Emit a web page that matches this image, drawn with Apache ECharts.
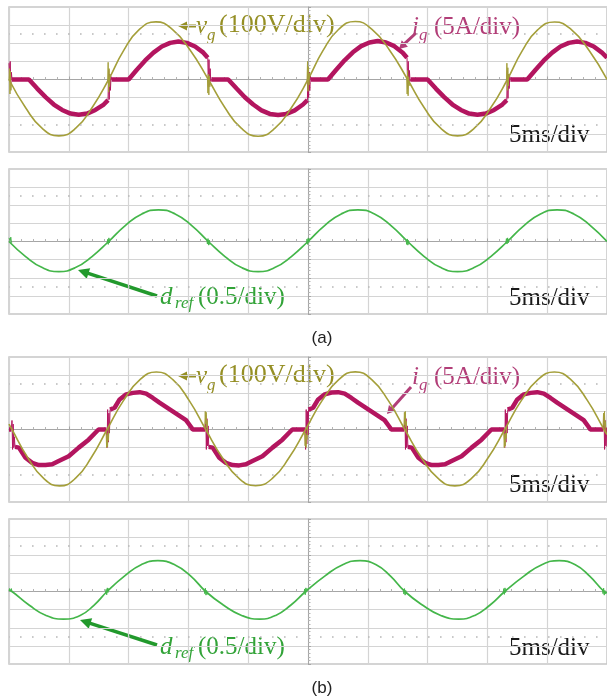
<!DOCTYPE html>
<html><head><meta charset="utf-8">
<script src="https://cdn.jsdelivr.net/npm/echarts@6/dist/echarts.min.js"></script>
<style>html,body{margin:0;padding:0;background:#fff}#c{width:607px;height:700px}</style>
</head><body><div id="c"></div><script>
// Time base: ms relative to the trigger point at screen centre (5 ms/div, 10 div).
// ---------- Panel (a), upper trace: grid voltage vg [V] ----------
const vgA_t = [-25, -23.61, -22.22, -20.83, -19.44, -18.06, -16.67, -15.42, -14.12, -12.72, -11.32, -9.82, -8.33, -6.94, -5.56, -4.17, -2.78, -1.39, 0, 1.25, 2.55, 3.95, 5.35, 6.85, 8.33, 9.72, 11.11, 12.5, 13.89, 15.28, 16.67, 17.92, 19.22, 20.62, 22.02, 23.52, 25];
const vgA_v = [0, -156, -270, -311, -270, -156, 0, 159, 275, 318, 275, 159, 0, -156, -270, -313, -270, -156, 0, 159, 276, 320, 276, 159, 0, -156, -270, -311, -270, -156, 0, 159, 275, 317, 275, 159, 0];
// switching glitches of vg at the zero crossings (null = gap)
const vgA_gt = [-25, -24.96, -24.92, -24.88, -24.84, -24.8, -24.79, -16.75, -16.71, -16.67, -16.63, -16.59, -16.55, -16.51, -16.5, -8.41, -8.37, -8.33, -8.29, -8.25, -8.21, -8.17, -8.16, -0.08, -0.04, 0, 0.04, 0.08, 0.12, 0.16, 0.17, 8.25, 8.29, 8.33, 8.37, 8.41, 8.45, 8.49, 8.5, 16.59, 16.63, 16.67, 16.71, 16.75, 16.79, 16.83];
const vgA_gv = [-5, 60, -80, 45, -60, -24, null, -10, 95, -70, 60, -40, 25, 19, null, 10, -75, 30, -85, 20, -40, -19, null, -10, 100, -65, 70, -30, 35, 19, null, 10, -80, 50, -90, 15, -35, -19, null, -10, 90, -60, 65, -35, 30, 19];

// ---------- Panel (a), upper trace: grid current ig [A] ----------
const igA_t = [-24.75, -23.33, -22.64, -21.94, -21.25, -20.56, -19.86, -19.17, -18.47, -17.78, -17.08, -16.72, -16.7, -16.42, -15.0, -14.31, -13.61, -12.92, -12.22, -11.53, -10.83, -10.14, -9.44, -8.75, -8.38, -8.36, -8.08, -6.67, -5.97, -5.28, -4.58, -3.89, -3.19, -2.5, -1.81, -1.11, -0.42, -0.05, -0.03, 0.25, 1.67, 2.36, 3.06, 3.75, 4.44, 5.14, 5.83, 6.53, 7.22, 7.92, 8.28, 8.3, 8.58, 10.0, 10.69, 11.39, 12.08, 12.78, 13.47, 14.17, 14.86, 15.56, 16.25, 16.62, 16.64, 16.92, 18.33, 19.03, 19.72, 20.42, 21.11, 21.81, 22.5, 23.19, 23.89, 24.58, 25];
const igA_v = [0, 0, -2.5, -4.85, -6.9, -8.4, -9.4, -9.7, -9.4, -8.4, -6.9, -5.7, null, 0, 0, 2.7, 5.25, 7.4, 9.1, 10.1, 10.5, 10.1, 9.1, 7.4, 6.0, null, 0, 0, -2.5, -4.9, -6.9, -8.5, -9.5, -9.8, -9.5, -8.5, -6.9, -5.7, null, 0, 0, 2.7, 5.3, 7.5, 9.2, 10.2, 10.6, 10.2, 9.2, 7.4, 6.0, null, 0, 0, -2.5, -4.85, -6.9, -8.4, -9.4, -9.7, -9.4, -8.4, -6.9, -5.7, null, 0, 0, 2.7, 5.25, 7.4, 9.1, 10.1, 10.5, 10.1, 9.1, 7.4, 6.0];
const igA_gt = [-25, -24.95, -24.9, -24.85, -24.8, -24.75, -24.74, -16.72, -16.67, -16.62, -16.57, -16.52, -16.47, -16.42, -16.41, -8.38, -8.33, -8.28, -8.23, -8.18, -8.13, -8.08, -8.07, -0.05, 0, 0.05, 0.1, 0.15, 0.2, 0.25, 0.26, 8.28, 8.33, 8.38, 8.43, 8.48, 8.53, 8.58, 8.59, 16.62, 16.67, 16.72, 16.77, 16.82, 16.87, 16.92];
const igA_gv = [4.5, 0.5, 5, -1, 2, 0, null, -5.7, 2.5, -5.5, 1.5, -3, 0.8, 0, null, 6.0, -2, 5.5, -1.5, 3, -0.5, 0, null, -5.7, 3.3, -5, 2, -3, 1, 0, null, 6.0, -2.5, 5, -1, 2.5, -0.5, 0, null, -5.7, 2.5, -5.2, 1.5, -2.5, 0.8, 0];

// ---------- Panel (a), lower trace: duty reference dref ----------
const drefA_t = [-25, -23.61, -22.22, -20.83, -19.44, -18.06, -16.67, -15.28, -13.89, -12.5, -11.11, -9.72, -8.33, -6.94, -5.56, -4.17, -2.78, -1.39, 0, 1.39, 2.78, 4.17, 5.56, 6.94, 8.33, 9.72, 11.11, 12.5, 13.89, 15.28, 16.67, 18.06, 19.44, 20.83, 22.22, 23.61, 25];
const drefA_v = [0, -0.415, -0.72, -0.83, -0.72, -0.415, 0, 0.44, 0.76, 0.875, 0.76, 0.44, 0, -0.415, -0.72, -0.83, -0.72, -0.415, 0, 0.44, 0.76, 0.875, 0.76, 0.44, 0, -0.415, -0.72, -0.83, -0.72, -0.415, 0, 0.44, 0.76, 0.875, 0.76, 0.44, 0];
const drefA_gt = [-25, -24.95, -24.9, -24.85, -24.8, -24.75, -24.74, -16.8, -16.75, -16.7, -16.65, -16.6, -16.55, -16.5, -16.49, -8.46, -8.41, -8.36, -8.31, -8.26, -8.21, -8.16, -8.15, -0.13, -0.08, -0.03, 0.02, 0.07, 0.12, 0.17, 0.18, 8.2, 8.25, 8.3, 8.35, 8.4, 8.45, 8.5, 8.51, 16.54, 16.59, 16.64, 16.69, 16.74, 16.79, 16.84];
const drefA_gv = [0.1, 0.13, 0.02, 0.12, -0.02, -0.04, null, -0.05, 0.06, -0.08, 0.1, -0.04, 0.07, 0.05, null, 0.05, -0.07, 0.08, -0.1, 0.04, -0.08, -0.05, null, -0.05, 0.07, -0.08, 0.1, -0.03, 0.07, 0.05, null, 0.05, -0.08, 0.07, -0.1, 0.03, -0.07, -0.05, null, -0.05, 0.08, -0.07, 0.1, -0.04, 0.06, 0.05];

// ---------- Panel (b), upper trace: grid voltage vg [V] ----------
const vgB_t = [-25, -24.75, -23.43, -22.1, -20.78, -19.45, -18.13, -16.8, -15.43, -14.05, -12.68, -11.3, -9.93, -8.55, -7.16, -5.77, -4.38, -2.98, -1.59, -0.2, 1.18, 2.57, 3.95, 5.33, 6.72, 8.1, 9.49, 10.88, 12.28, 13.67, 15.06, 16.45, 17.83, 19.22, 20.6, 21.98, 23.37, 24.75, 25];
const vgB_v = [30, 0, -156, -270, -311, -270, -156, 0, 159, 275, 317, 275, 159, 0, -156, -270, -310, -270, -156, 0, 159, 275, 318, 275, 159, 0, -156, -270, -311, -270, -156, 0, 159, 275, 317, 275, 159, 0, -28];
const vgB_gt = [-16.88, -16.84, -16.8, -16.76, -16.72, -16.68, -16.64, -16.63, -8.63, -8.59, -8.55, -8.51, -8.47, -8.43, -8.39, -8.38, -0.28, -0.24, -0.2, -0.16, -0.12, -0.08, -0.04, -0.03, 8.02, 8.06, 8.1, 8.14, 8.18, 8.22, 8.26, 8.27, 16.37, 16.41, 16.45, 16.49, 16.53, 16.57, 16.61, 16.62, 24.67, 24.71, 24.75, 24.79, 24.83, 24.87, 24.91];
const vgB_gv = [-10, -100, -30, -95, -20, -60, 19, null, 10, 100, 30, 95, 10, 50, -19, null, -10, -90, -20, -100, -30, -55, 19, null, 10, 95, 25, 100, 15, 45, -19, null, -10, -100, -25, -90, -20, -50, 19, null, 10, 90, 20, 100, 10, 45, -19];

// ---------- Panel (b), upper trace: grid current ig [A] ----------
const igB_t = [-25, -24.8, -24.79, -24.5, -24.17, -23.62, -23.06, -22.51, -21.95, -21.39, -20.84, -20.01, -19.17, -18.34, -17.78, -17.51, -16.85, -16.84, -16.55, -16.17, -15.75, -15.2, -14.64, -14.08, -13.53, -12.97, -12.42, -11.31, -10.2, -9.78, -9.64, -8.6, -8.59, -8.3, -7.97, -7.42, -6.86, -6.31, -5.75, -5.19, -4.64, -3.81, -2.97, -2.14, -1.58, -1.31, -0.25, -0.24, 0.05, 0.43, 0.85, 1.4, 1.96, 2.52, 3.07, 3.63, 4.18, 5.29, 6.4, 6.82, 6.96, 8.05, 8.06, 8.35, 8.68, 9.23, 9.79, 10.34, 10.9, 11.46, 12.01, 12.84, 13.68, 14.51, 15.07, 15.34, 16.4, 16.41, 16.7, 17.08, 17.5, 18.05, 18.61, 19.17, 19.72, 20.28, 20.83, 21.94, 23.05, 23.47, 23.61, 24.7, 24.71, 25];
const igB_v = [0, 0, null, -4.8, -5.0, -7.8, -9.2, -9.8, -9.8, -9.6, -8.7, -7.4, -5.0, -2.8, -0.9, 0, 0, null, 5.5, 6.0, 8.3, 9.7, 10.1, 10.3, 9.9, 8.7, 7.4, 5.0, 2.6, 0.7, 0, 0, null, -4.8, -5.0, -7.8, -9.2, -9.8, -9.9, -9.6, -8.7, -7.4, -5.0, -2.8, -0.9, 0, 0, null, 5.5, 6.0, 8.3, 9.7, 10.2, 10.3, 9.9, 8.7, 7.4, 5.0, 2.6, 0.7, 0, 0, null, -4.8, -5.0, -7.8, -9.2, -9.8, -9.8, -9.6, -8.7, -7.4, -5.0, -2.8, -0.9, 0, 0, null, 5.5, 6.0, 8.3, 9.7, 10.1, 10.3, 9.9, 8.7, 7.4, 5.0, 2.6, 0.7, 0, 0, null, -4.8];
const igB_gt = [-24.8, -24.75, -24.7, -24.65, -24.6, -24.55, -24.5, -24.49, -16.85, -16.8, -16.75, -16.7, -16.65, -16.6, -16.55, -16.54, -8.6, -8.55, -8.5, -8.45, -8.4, -8.35, -8.3, -8.29, -0.25, -0.2, -0.15, -0.1, -0.05, 0, 0.05, 0.06, 8.05, 8.1, 8.15, 8.2, 8.25, 8.3, 8.35, 8.36, 16.4, 16.45, 16.5, 16.55, 16.6, 16.65, 16.7, 16.71, 24.7, 24.75, 24.8, 24.85, 24.9, 24.95, 25];
const igB_gv = [0, 2.5, -5.5, 1.5, -5, -2, -4.8, null, 0, -5, 5.5, -3.5, 4.5, -1, 5.5, null, 0, 4, -5.5, 3, -4.5, 1, -4.8, null, 0, -5.5, 5.5, -4, 5, -1.5, 5.5, null, 0, 4.5, -5.5, 3, -5, 1, -4.8, null, 0, -5, 5.5, -3.5, 4.5, -1, 5.5, null, 0, 4, -5.5, 2.5, -4.5, 0.5, -4.8];

// ---------- Panel (b), lower trace: duty reference dref ----------
const drefB_t = [-25, -24.75, -23.3, -21.9, -20.45, -19.05, -17.9, -16.8, -15.35, -13.95, -12.55, -11.15, -9.8, -8.55, -7.05, -5.55, -4.05, -2.7, -1.45, -0.2, 1.4, 2.9, 4.35, 5.7, 6.9, 8.1, 9.6, 11.1, 12.6, 13.95, 15.2, 16.45, 18.05, 19.55, 21.0, 22.35, 23.55, 24.75, 25];
const drefB_v = [0.03, 0, -0.38, -0.66, -0.76, -0.66, -0.38, 0, 0.425, 0.74, 0.85, 0.74, 0.425, 0, -0.38, -0.66, -0.76, -0.66, -0.38, 0, 0.425, 0.74, 0.85, 0.74, 0.425, 0, -0.38, -0.66, -0.76, -0.66, -0.38, 0, 0.425, 0.74, 0.85, 0.74, 0.425, 0, -0.03];
const drefB_gt = [-25, -24.95, -24.9, -24.85, -24.8, -24.75, -24.7, -24.69, -16.93, -16.88, -16.83, -16.78, -16.73, -16.68, -16.63, -16.62, -8.68, -8.63, -8.58, -8.53, -8.48, -8.43, -8.38, -8.37, -0.33, -0.28, -0.23, -0.18, -0.13, -0.08, -0.03, -0.02, 7.97, 8.02, 8.07, 8.12, 8.17, 8.22, 8.27, 8.28, 16.32, 16.37, 16.42, 16.47, 16.52, 16.57, 16.62, 16.63, 24.62, 24.67, 24.72, 24.77, 24.82, 24.87, 24.92];
const drefB_gv = [0.02, 0.08, 0.1, 0.02, 0.08, -0.02, -0.01, null, -0.04, 0.06, -0.09, 0.1, -0.03, 0.08, 0.05, null, 0.04, -0.06, 0.09, -0.1, 0.03, -0.08, -0.05, null, -0.04, 0.07, -0.09, 0.1, -0.02, 0.08, 0.05, null, 0.04, -0.07, 0.08, -0.1, 0.03, -0.07, -0.05, null, -0.04, 0.08, -0.08, 0.1, -0.03, 0.07, 0.05, null, 0.04, -0.06, 0.09, -0.1, 0.03, -0.07, -0.05];

// ---------- Scope settings ----------
const TIME_RANGE = [-25, 25];   // ms, 5 ms/div
const VG_RANGE = [-400, 400];   // 100 V/div
const IG_RANGE = [-20, 20];     // 5 A/div
const DREF_RANGE = [-2, 2];     // 0.5/div

const C_VG = '#a49f3a', C_VG_TXT = '#958f25';
const C_IG = '#b3155f', C_IG_TXT = '#b23e78';
const C_DREF = '#44b64a', C_DREF_TXT = '#32a338', C_DREF_ARROW = '#22992c';
const GRID_LINE = '#d4d4d4', CENTER_LINE = '#a6a6a6';

function pairs(ts, vs) { return ts.map((t, i) => [t, vs[i] === null ? '-' : vs[i]]); }

const panels = [
  { left: 9, top: 7, width: 600, height: 145 },
  { left: 9, top: 169, width: 600, height: 145 },
  { left: 9, top: 357, width: 600, height: 145 },
  { left: 9, top: 519, width: 600, height: 145 }
];

function xAxis(gi) {
  return {
    gridIndex: gi, type: 'value', min: TIME_RANGE[0], max: TIME_RANGE[1], interval: 5,
    axisLabel: { show: false },
    splitLine: { show: true, lineStyle: { color: GRID_LINE, width: 1.2 } },
    axisLine: { show: true, onZero: true, lineStyle: { color: CENTER_LINE, width: 1 } },
    axisTick: { show: true, inside: true, length: 3, lineStyle: { color: CENTER_LINE } },
    minorTick: { show: true, splitNumber: 5, length: 2.5, lineStyle: { color: '#b4b4b4' } }
  };
}
function yAxisShown(gi, range, step) {
  return {
    gridIndex: gi, type: 'value', min: range[0], max: range[1], interval: step,
    axisLabel: { show: false },
    splitLine: { show: true, lineStyle: { color: GRID_LINE, width: 1.2 } },
    axisLine: { show: true, onZero: true, lineStyle: { color: CENTER_LINE, width: 1 } },
    axisTick: { show: true, inside: true, length: 3, lineStyle: { color: CENTER_LINE } },
    minorTick: { show: true, splitNumber: 5, length: 2.5, lineStyle: { color: '#b4b4b4' } }
  };
}
function yAxisHidden(gi, range, step) {
  return { gridIndex: gi, type: 'value', min: range[0], max: range[1], interval: step, show: false };
}
function dottedRows(level) {
  return {
    silent: true, symbol: ['none', 'none'], label: { show: false },
    lineStyle: { type: [1.6, 10.4], dashOffset: -11, color: '#b8b8b8', width: 1.6 },
    data: [{ yAxis: level }, { yAxis: -level }], animation: false
  };
}
function line(xi, yi, data, color, width, smooth, extra) {
  return Object.assign({
    type: 'line', xAxisIndex: xi, yAxisIndex: yi, data: data, symbol: 'none', showSymbol: false,
    smooth: smooth, connectNulls: false, lineStyle: { color: color, width: width }, animation: false, silent: true
  }, extra || {});
}

const serif = '"Liberation Serif", "Times New Roman", serif';
function txt(x, y, s, font, fill) {
  return { type: 'text', x: x, y: y, silent: true, style: { text: s, font: font, fill: fill, align: 'left', verticalAlign: 'middle' } };
}
function arrow(tail, tip, head, halfW, color, w) {
  const dx = tip[0] - tail[0], dy = tip[1] - tail[1];
  const L = Math.hypot(dx, dy), ux = dx / L, uy = dy / L;
  const bx = tip[0] - head * ux, by = tip[1] - head * uy;
  return [
    { type: 'line', silent: true, shape: { x1: tail[0], y1: tail[1], x2: bx + ux, y2: by + uy }, style: { stroke: color, lineWidth: w } },
    { type: 'polygon', silent: true, shape: { points: [tip, [bx - uy * halfW, by + ux * halfW], [bx + uy * halfW, by - ux * halfW]] }, style: { fill: color } }
  ];
}
function upperLabels(dy) {
  return [].concat(
    arrow([196, 26 + dy], [178, 26 + dy], 9, 4.5, C_VG_TXT, 3),
    [txt(196, 26 + dy, 'v', 'italic 25px ' + serif, C_VG_TXT),
     txt(207, 36 + dy, 'g', 'italic 17px ' + serif, C_VG_TXT),
     txt(219, 25 + dy, '(100V/div)', '26px ' + serif, C_VG_TXT),
     txt(412, 27 + dy, 'i', 'italic 25px ' + serif, C_IG_TXT),
     txt(419, 36 + dy, 'g', 'italic 17px ' + serif, C_IG_TXT),
     txt(434, 27 + dy, '(5A/div)', '25px ' + serif, C_IG_TXT)]
  );
}
function lowerLabels(dy, tail, tip) {
  return [].concat(
    arrow(tail, tip, 11, 5.5, C_DREF_ARROW, 3.5),
    [txt(160, 297 + dy, 'd', 'italic 25px ' + serif, C_DREF_TXT),
     txt(175, 304 + dy, 'ref', 'italic 17px ' + serif, C_DREF_TXT),
     txt(198, 297 + dy, '(0.5/div)', '25px ' + serif, C_DREF_TXT)]
  );
}
function scaleText(y) { return txt(509, y, '5ms/div', '25px ' + serif, '#1a1a1a'); }

const graphic = [].concat(
  upperLabels(0),
  arrow([416, 33], [399, 49], 8, 4.5, C_IG_TXT, 3),
  [scaleText(135)],
  lowerLabels(0, [157, 296], [78, 270]),
  [scaleText(298)],
  upperLabels(350),
  arrow([411, 387], [387, 414], 8, 4.5, C_IG_TXT, 3),
  [scaleText(485)],
  lowerLabels(350, [157, 645], [80, 620]),
  [scaleText(648)],
  [{ type: 'text', x: 322, y: 338, silent: true, style: { text: '(a)', font: '17px "Liberation Sans", Arial, sans-serif', fill: '#222', align: 'center', verticalAlign: 'middle' } },
   { type: 'text', x: 322, y: 688, silent: true, style: { text: '(b)', font: '17px "Liberation Sans", Arial, sans-serif', fill: '#222', align: 'center', verticalAlign: 'middle' } }]
);

const option = {
  backgroundColor: '#ffffff',
  animation: false,
  grid: panels.map(p => Object.assign({ show: true, borderColor: '#c6c6c6', borderWidth: 1.5, backgroundColor: 'transparent', containLabel: false }, p)),
  xAxis: [xAxis(0), xAxis(1), xAxis(2), xAxis(3)],
  yAxis: [
    yAxisShown(0, VG_RANGE, 100), yAxisHidden(0, IG_RANGE, 5),
    yAxisShown(1, DREF_RANGE, 0.5),
    yAxisShown(2, VG_RANGE, 100), yAxisHidden(2, IG_RANGE, 5),
    yAxisShown(3, DREF_RANGE, 0.5)
  ],
  series: [
    // panel (a)
    line(0, 1, pairs(igA_t, igA_v), C_IG, 4.5, false),
    line(0, 1, pairs(igA_gt, igA_gv), C_IG, 1, false),
    line(0, 0, pairs(vgA_t, vgA_v), C_VG, 1.6, 0.5, { markLine: dottedRows(250) }),
    line(0, 0, pairs(vgA_gt, vgA_gv), C_VG, 1, false),
    line(1, 2, pairs(drefA_t, drefA_v), C_DREF, 1.7, 0.5, { markLine: dottedRows(1.25) }),
    line(1, 2, pairs(drefA_gt, drefA_gv), C_DREF, 1, false),
    // panel (b)
    line(2, 4, pairs(igB_t, igB_v), C_IG, 4.5, false),
    line(2, 4, pairs(igB_gt, igB_gv), C_IG, 1, false),
    line(2, 3, pairs(vgB_t, vgB_v), C_VG, 1.6, 0.5, { markLine: dottedRows(250) }),
    line(2, 3, pairs(vgB_gt, vgB_gv), C_VG, 1, false),
    line(3, 5, pairs(drefB_t, drefB_v), C_DREF, 1.7, 0.5, { markLine: dottedRows(1.25) }),
    line(3, 5, pairs(drefB_gt, drefB_gv), C_DREF, 1, false)
  ],
  graphic: graphic
};

const chart = echarts.init(document.getElementById('c'), null, { renderer: 'canvas' });
chart.setOption(option);
</script></body></html>
